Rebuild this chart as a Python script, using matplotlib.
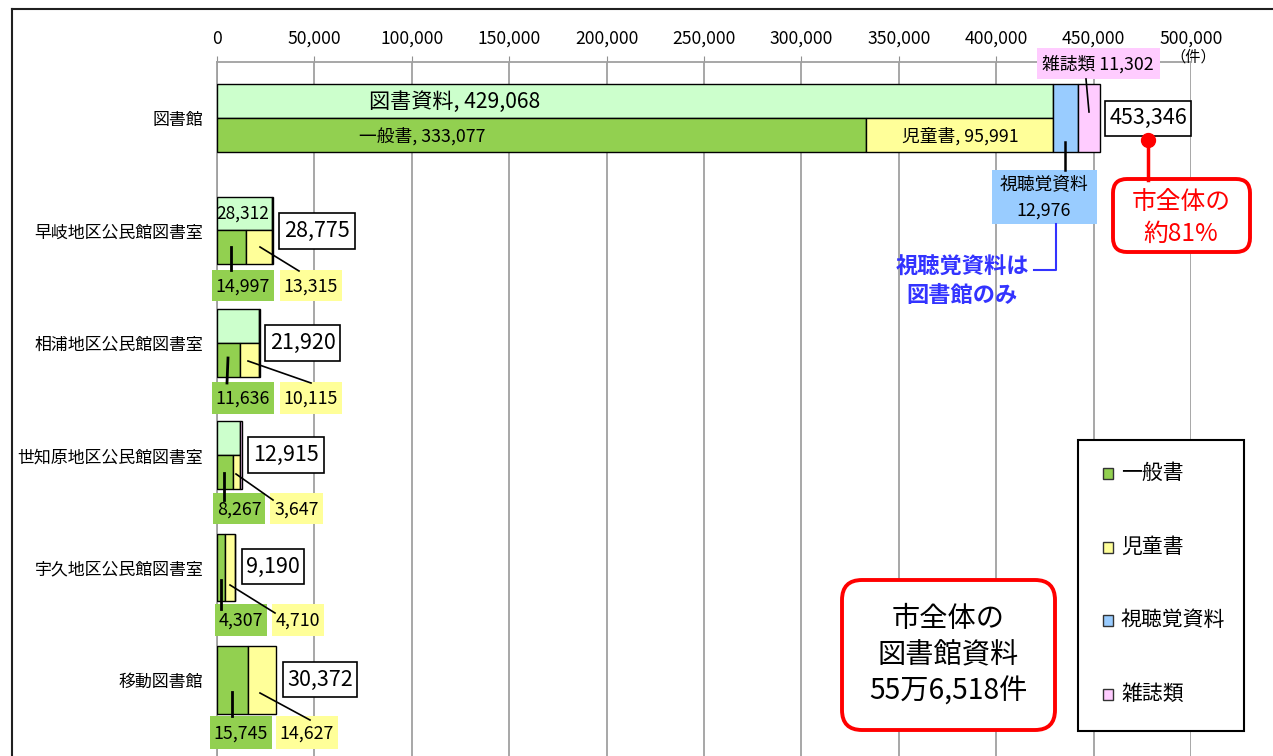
import matplotlib
matplotlib.use("Agg")
import matplotlib.pyplot as plt
from matplotlib.patches import Rectangle, FancyBboxPatch
from matplotlib.lines import Line2D
from matplotlib.transforms import Affine2D
from matplotlib.ticker import FuncFormatter

plt.rcParams['font.family'] = ['Noto Sans CJK JP', 'DejaVu Sans']

W, H = 1273, 756

# ---- data ----
categories = ['図書館', '早岐地区公民館図書室', '相浦地区公民館図書室',
              '世知原地区公民館図書室', '宇久地区公民館図書室', '移動図書館']
general = [333077, 14997, 11636, 8267, 4307, 15745]        # 一般書
children = [95991, 13315, 10115, 3647, 4710, 14627]        # 児童書
audiovisual = [12976, 0, 0, 0, 0, 0]                       # 視聴覚資料
magazines = [11302, 463, 169, 1001, 173, 0]                # 雑誌類
book_totals = [429068, 28312, 21751, 11914, None, None]    # 図書資料 (upper row)
totals = [453346, 28775, 21920, 12915, 9190, 30372]
x_ticks = list(range(0, 500001, 50000))

series = ['一般書', '児童書', '視聴覚資料', '雑誌類']
colors = {'一般書': '#92d050', '児童書': '#ffff99', '視聴覚資料': '#99ccff',
          '雑誌類': '#ffccff', '図書資料': '#ccffcc'}

fig = plt.figure(figsize=(W / 100, H / 100), dpi=100)
# pixel coordinates (origin top-left) for annotations
P = Affine2D().scale(1 / W, -1 / H).translate(0, 1) + fig.transFigure

ax = fig.add_axes([217 / W, 0, 974 / W, 1 - 62 / H])
ax.set_xlim(0, 500000)
ax.set_ylim((756 - 118) / 112.4, (62 - 118) / 112.4)

bar_kw = dict(edgecolor='black', linewidth=1.0, zorder=3)
for i in range(len(categories)):
    if book_totals[i] is None:
        y, h = i, 0.6
    else:
        ax.barh(i - 0.15, book_totals[i], height=0.3, color=colors['図書資料'], **bar_kw)
        y, h = i + 0.15, 0.3
    ax.barh(y, general[i], height=h, color=colors['一般書'], **bar_kw)
    ax.barh(y, children[i], left=general[i], height=h, color=colors['児童書'], **bar_kw)
    base = general[i] + children[i]
    if audiovisual[i] > 0:
        ax.barh(i, audiovisual[i], left=base, height=0.6, color=colors['視聴覚資料'], **bar_kw)
    if magazines[i] > 0:
        ax.barh(i, magazines[i], left=base + audiovisual[i], height=0.6,
                color=colors['雑誌類'], **bar_kw)

ax.set_yticks(range(len(categories)))
ax.set_yticklabels(categories, fontsize=12.2)
ax.tick_params(axis='y', length=0, pad=10)
ax.xaxis.tick_top()
ax.set_xticks(x_ticks)
ax.xaxis.set_major_formatter(FuncFormatter(lambda v, p: f'{int(v):,}'))
ax.tick_params(axis='x', labelsize=12.6, length=4, color='#909090', pad=6)
ax.grid(axis='x', color='#a0a0a0', linewidth=1.3, zorder=0)
ax.set_axisbelow(True)
for s in ['right', 'bottom']:
    ax.spines[s].set_visible(False)
for s in ['top', 'left']:
    ax.spines[s].set_color('#a0a0a0')
    ax.spines[s].set_linewidth(1.3)


def rect(x0, y0, x1, y1, fc='white', ec='none', lw=1.0, rounding=0, z=4):
    if rounding:
        p = FancyBboxPatch((x0, y0), x1 - x0, y1 - y0,
                           boxstyle=f'round,pad=0,rounding_size={rounding}',
                           fc=fc, ec=ec, lw=lw, transform=P, zorder=z)
    else:
        p = Rectangle((x0, y0), x1 - x0, y1 - y0, fc=fc, ec=ec, lw=lw,
                      transform=P, zorder=z)
    fig.add_artist(p)


def line(xs, ys, color='black', lw=1.2, z=5):
    fig.add_artist(Line2D(xs, ys, color=color, lw=lw, transform=P, zorder=z))


def txt(x, y, s, size=12, color='black', z=6, **kw):
    fig.text(x, y, s, transform=P, fontsize=size, color=color,
             ha=kw.pop('ha', 'center'), va=kw.pop('va', 'center'), zorder=z, **kw)


# outer frame
line([12, 12], [756, 9], color='#202020', lw=1.5)
line([12, 1273], [9, 9], color='#202020', lw=1.5)
txt(1193, 57, '（件）', size=11)

# 図書館
txt(455, 102, f'図書資料, {book_totals[0]:,}', size=15.2)
txt(422, 136, f'一般書, {general[0]:,}', size=12.8)
txt(960, 136, f'児童書, {children[0]:,}', size=12.8)

rect(1037, 48, 1160, 79, fc=colors['雑誌類'])
txt(1098, 64, f'雑誌類 {magazines[0]:,}', size=12.8)
line([1086, 1089], [79, 112])

rect(992, 170, 1097, 224, fc=colors['視聴覚資料'])
txt(1044, 185, '視聴覚資料', size=12.8)
txt(1044, 211, f'{audiovisual[0]:,}', size=12.8)
line([1065, 1065], [142, 170], lw=1.8)

rect(1105, 101, 1191, 136, fc='white', ec='black', lw=1.2)
txt(1148, 118, f'{totals[0]:,}', size=15.5)

line([1148, 1148], [140, 180], color='red', lw=2.5)
fig.add_artist(Line2D([1148], [140], marker='o', ms=10, color='red', transform=P, zorder=7))
rect(1113, 179, 1250, 252, fc='white', ec='red', lw=2.8, rounding=14)
txt(1181, 202, '市全体の', size=17.8, color='red')
txt(1181, 234, '約81%', size=17.8, color='red')

line([1056, 1056, 1034], [224, 270, 270], color='#3333ff', lw=1.5)
txt(962, 267, '視聴覚資料は', size=16, color='#3333ff', fontweight='bold')
txt(962, 296, '図書館のみ', size=16, color='#3333ff', fontweight='bold')

# small categories: label boxes (px layout)
small = [
    # i, green box, yellow box, total box, green leader, yellow leader
    (1, (212, 270, 274, 301), (280, 270, 342, 301), (279, 213, 355, 249),
     ([231, 231], [247, 270]), ([260, 299], [247, 271])),
    (2, (212, 382, 274, 414), (280, 382, 342, 414), (265, 325, 340, 361),
     ([228, 227], [358, 383]), ([248, 311], [361, 383])),
    (3, (213, 493, 265, 524), (270, 493, 323, 524), (248, 437, 324, 473),
     ([224, 224], [473, 500]), ([236, 273], [474, 500])),
    (4, (215, 604, 267, 636), (272, 604, 324, 636), (242, 549, 304, 584),
     ([221, 221], [580, 609]), ([230, 275], [585, 613])),
    (5, (210, 716, 272, 749), (276, 716, 338, 749), (283, 662, 357, 697),
     ([232, 232], [692, 716]), ([260, 310], [693, 720])),
]
for i, gb, yb, tb, gl, yl in small:
    line(*gl, lw=2.0)
    line(*yl, lw=1.2)
    rect(*gb, fc=colors['一般書'])
    txt((gb[0] + gb[2]) / 2, (gb[1] + gb[3]) / 2 + 1, f'{general[i]:,}', size=12.8)
    rect(*yb, fc=colors['児童書'])
    txt((yb[0] + yb[2]) / 2, (yb[1] + yb[3]) / 2 + 1, f'{children[i]:,}', size=12.8)
    rect(*tb, fc='white', ec='black', lw=1.2)
    txt((tb[0] + tb[2]) / 2, (tb[1] + tb[3]) / 2, f'{totals[i]:,}', size=15.5)
txt(243, 214, f'{book_totals[1]:,}', size=12.5)

# legend
rect(1078, 440, 1244, 731, fc='white', ec='black', lw=1.5)
for k, name in enumerate(series):
    yc = 473 + k * 73.5
    rect(1103, yc - 5, 1113, yc + 6, fc=colors[name], ec='#333333', lw=1.0, z=6)
    txt(1121, yc, name, size=15, ha='left')

# total box
rect(842, 580, 1055, 730, fc='white', ec='red', lw=2.8, rounding=20)
txt(948, 619, '市全体の', size=20.3)
txt(948, 655, '図書館資料', size=20.3)
txt(948, 692, '55万6,518件', size=20.3)

fig.savefig('out.png', dpi=100)
